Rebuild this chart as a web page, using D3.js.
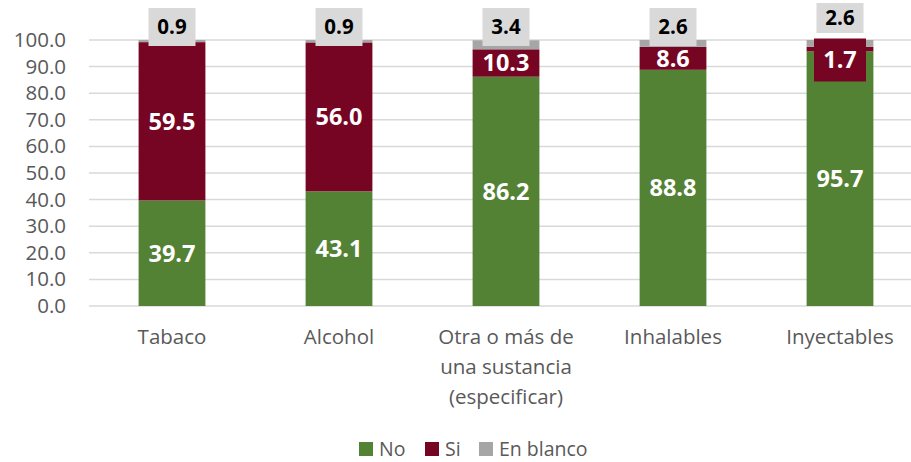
<!DOCTYPE html>
<html>
<head>
<meta charset="utf-8">
<script src="https://cdn.jsdelivr.net/npm/d3@7"></script>
<style>
  body { margin: 0; background: #fff; }
  text { font-family: "Open Sans", sans-serif; }
</style>
</head>
<body>
<script>
(function(){
    var categories = ["Tabaco", "Alcohol", "Otra o más de una sustancia (especificar)", "Inhalables", "Inyectables"];
    var categoryLines = [["Tabaco"], ["Alcohol"], ["Otra o más de", "una sustancia", "(especificar)"], ["Inhalables"], ["Inyectables"]];
    var seriesNames = ["No", "Si", "En blanco"];
    var noValues = [39.7, 43.1, 86.2, 88.8, 95.7];
    var siValues = [59.5, 56.0, 10.3, 8.6, 1.7];
    var blancoValues = [0.9, 0.9, 3.4, 2.6, 2.6];
    var yTicks = [0, 10, 20, 30, 40, 50, 60, 70, 80, 90, 100];

    var svgWidth = 911;
    var svgHeight = 462;
    var colors = {"No": "#548235", "Si": "#760524", "En blanco": "#a6a6a6"};

    var svg = d3.select("body").append("svg")
        .attr("width", svgWidth).attr("height", svgHeight);

    var rows = categories.map(function (c, i) {
        return {cat: c, "No": noValues[i], "Si": siValues[i], "En blanco": blancoValues[i]};
    });

    var x = d3.scaleBand().domain(categories).range([88.5, 923.5]).paddingInner(0.6).paddingOuter(0.3);
    var y = d3.scaleLinear().domain([0, 100]).range([306, 40]);

    // grid lines
    svg.append("g").selectAll("line").data(yTicks).enter()
        .append("line")
        .attr("x1", 89).attr("x2", svgWidth)
        .attr("y1", function (d) { return y(d); }).attr("y2", function (d) { return y(d); })
        .attr("stroke", "#d9d9d9").attr("stroke-width", 1.5);

    // y axis labels
    var yAxis = d3.axisLeft(y).tickValues(yTicks).tickFormat(d3.format(".1f")).tickSize(0).tickPadding(0);
    var yg = svg.append("g").attr("transform", "translate(66,0)").call(yAxis);
    yg.select(".domain").remove();
    yg.selectAll("text").attr("font-size", 20.5).attr("fill", "#595959")
        .attr("font-family", "'Open Sans', sans-serif");

    var stacked = d3.stack().keys(seriesNames)(rows);

    svg.append("g").selectAll("g").data(stacked).enter()
        .append("g").attr("fill", function (d) { return colors[d.key]; })
        .selectAll("rect").data(function (d) { return d; }).enter()
        .append("rect")
        .attr("x", function (d) { return x(d.data.cat); })
        .attr("width", x.bandwidth())
        .attr("y", function (d) { return y(Math.min(d[1], 100)); })
        .attr("height", function (d) { return y(d[0]) - y(Math.min(d[1], 100)); });

    var fmt = d3.format(".1f");

    // labels for No and Si
    stacked.slice(0, 2).forEach(function (layer) {
        layer.forEach(function (d) {
            var cx = x(d.data.cat) + x.bandwidth() / 2;
            var val = d.data[layer.key];
            var cy = y((d[0] + d[1]) / 2);
            if (layer.key === "Si" && val < 5) {
                cy = y(100) + 20;
                svg.append("rect").attr("x", cx - 26).attr("y", cy - 21.5)
                    .attr("width", 52).attr("height", 43).attr("fill", colors["Si"]);
            }
            svg.append("text").attr("x", cx).attr("y", cy)
                .attr("text-anchor", "middle").attr("dy", "0.36em")
                .attr("font-size", 23.5).attr("font-weight", "bold").attr("fill", "#fff")
                .text(fmt(val));
        });
    });

    // labels for En blanco
    stacked[2].forEach(function (d, i) {
        var cx = x(d.data.cat) + x.bandwidth() / 2;
        var cy = y(100) - 13;
        var h = 38;
        if (siValues[i] < 5) { cy = y(100) - 22; h = 30; }
        svg.append("rect").attr("x", cx - 23.5).attr("y", cy - h / 2)
            .attr("width", 47).attr("height", h).attr("fill", "#d9d9d9");
        svg.append("text").attr("x", cx).attr("y", cy)
            .attr("text-anchor", "middle").attr("dy", "0.36em")
            .attr("font-size", 20.5).attr("font-weight", "bold").attr("fill", "#000")
            .text(fmt(blancoValues[i]));
    });

    // category labels
    categories.forEach(function (c, i) {
        var t = svg.append("text").attr("x", x(c) + x.bandwidth() / 2).attr("y", 337)
            .attr("text-anchor", "middle").attr("font-size", 20.5).attr("fill", "#595959");
        categoryLines[i].forEach(function (line, j) {
            t.append("tspan").attr("x", x(c) + x.bandwidth() / 2)
                .attr("y", 337 + j * 30).attr("dy", "0.36em").text(line);
        });
    });

    // legend
    var legendX = [359, 425, 479];
    var legend = svg.append("g").selectAll("g").data(seriesNames).enter()
        .append("g").attr("transform", function (d, i) { return "translate(" + legendX[i] + ",442)"; });
    legend.append("rect").attr("width", 14).attr("height", 14)
        .attr("fill", function (d) { return colors[d]; });
    legend.append("text").attr("x", 20).attr("y", 7).attr("dy", "0.34em")
        .attr("font-size", 19.5).attr("fill", "#595959")
        .text(function (d) { return d; });
})();
</script>
</body>
</html>
